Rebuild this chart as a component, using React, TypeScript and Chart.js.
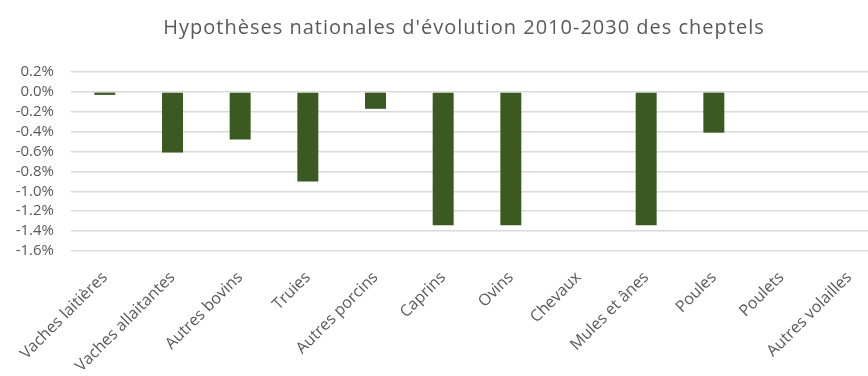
import React, { useEffect, useRef } from "react";
import { Chart, registerables } from "chart.js";

Chart.register(...registerables);

const TITLE = "Hypothèses nationales d'évolution 2010-2030 des cheptels";
const categories = [
  "Vaches laitières",
  "Vaches allaitantes",
  "Autres bovins",
  "Truies",
  "Autres porcins",
  "Caprins",
  "Ovins",
  "Chevaux",
  "Mules et ânes",
  "Poules",
  "Poulets",
  "Autres volailles",
];
const values = [-0.03, -0.61, -0.48, -0.9, -0.17, -1.34, -1.34, 0, -1.34, -0.41, 0, 0];
const yMin = -1.6;
const yMax = 0.2;
const yStep = 0.2;

const FONT = "'Open Sans', 'Noto Sans', sans-serif";
const GRAY = "#595959";

const titlePlugin = {
  id: "customTitle",
  afterDraw(chart: any) {
    const ctx = chart.ctx;
    ctx.save();
    ctx.font = `20px ${FONT}`;
    (ctx as any).letterSpacing = "1px";
    ctx.fillStyle = GRAY;
    ctx.textAlign = "center";
    ctx.textBaseline = "middle";
    ctx.fillText(TITLE, 464, 28);
    ctx.restore();
  },
};

export default function App() {
  const ref = useRef<HTMLCanvasElement>(null);
  useEffect(() => {
    document.body.style.margin = "0";
    document.body.style.overflow = "hidden";
    const chart = new Chart(ref.current!, {
      type: "bar",
      data: {
        labels: categories,
        datasets: [
          {
            data: values,
            backgroundColor: "#3a5a22",
            barPercentage: 1,
            categoryPercentage: 0.31,
          },
        ],
      },
      options: {
        animation: false,
        responsive: false,
        maintainAspectRatio: false,
        layout: { padding: { top: 72, right: 40, left: 0, bottom: 0 } },
        plugins: {
          legend: { display: false },
          title: { display: false },
          tooltip: { enabled: false },
        },
        scales: {
          x: {
            grid: { display: false },
            border: { display: false },
            ticks: {
              color: GRAY,
              font: { family: FONT, size: 16 },
              minRotation: 45,
              maxRotation: 45,
              autoSkip: false,
              padding: 9,
            },
            afterFit(scale: any) {
              scale.height = 125;
            },
          },
          y: {
            min: yMin,
            max: yMax,
            grid: { color: "#d9d9d9", lineWidth: 1.5, drawTicks: false },
            border: { display: false },
            ticks: {
              stepSize: yStep,
              autoSkip: false,
              color: GRAY,
              font: { family: FONT, size: 15, lineHeight: 1 },
              padding: 17,
              callback: (v: any) => Number(v).toFixed(1) + "%",
            },
            afterFit(scale: any) {
              scale.width = 71;
            },
          },
        },
      },
      plugins: [titlePlugin],
    });
    return () => chart.destroy();
  }, []);
  return (
    <div style={{ width: 868, height: 376, overflow: "hidden", position: "relative" }}>
      <canvas ref={ref} width={923} height={376} style={{ display: "block" }} />
    </div>
  );
}
